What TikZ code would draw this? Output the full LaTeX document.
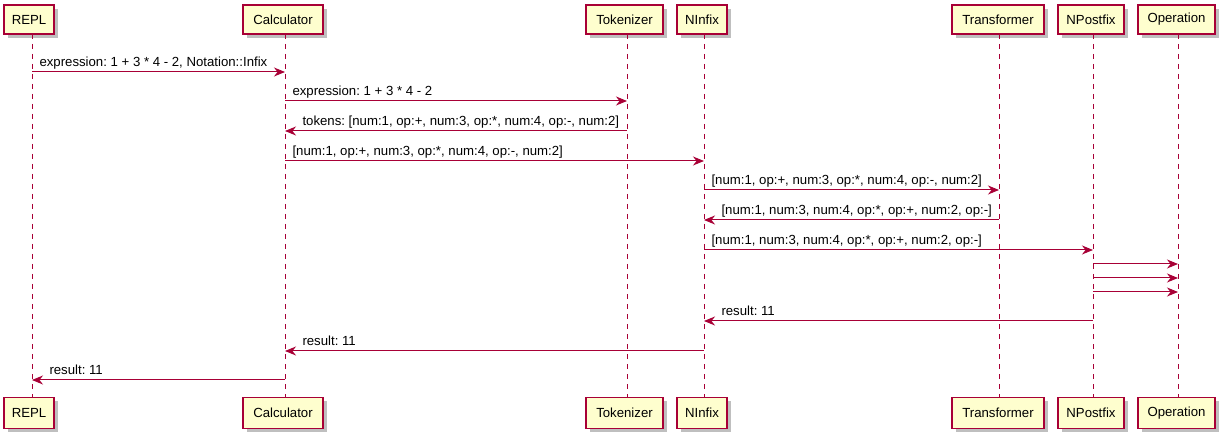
\documentclass[tikz,border=0pt]{standalone}
\usepackage{fontspec}
\setmainfont{Liberation Sans}
\frenchspacing
\usetikzlibrary{arrows.meta,shadows}
\definecolor{umlred}{HTML}{A80036}
\definecolor{umlfill}{HTML}{FEFECE}
\tikzset{
  part/.style={draw=umlred, fill=umlfill, line width=1.5bp, minimum height=29bp,
    inner sep=0pt, font=\fontsize{13.2bp}{15bp}\selectfont,
    drop shadow={shadow xshift=4bp, shadow yshift=-4bp, fill=black, opacity=.25}},
  life/.style={draw=umlred, dash pattern=on 5bp off 5bp, line width=1bp},
  msg/.style={draw=umlred, line width=1bp, -{Stealth[length=11bp,width=9bp,inset=3.5bp]}},
  lbl/.style={font=\fontsize{13.2bp}{15bp}\selectfont, inner sep=0pt}
}
\begin{document}
\begin{tikzpicture}[x=1bp,y=-1bp]
\useasboundingbox (0,0) rectangle (1228,441);
% participants, top and bottom
\node[part, minimum width=50bp] (repl) at (29,19.5) {REPL};
\node[part, minimum width=80bp] (calc) at (283,19.5) {Calculator};
\node[part, minimum width=77bp] (tok) at (624.5,19.5) {Tokenizer};
\node[part, minimum width=50bp] (ninf) at (702,19.5) {NInfix};
\node[part, minimum width=92bp] (trans) at (998,19.5) {Transformer};
\node[part, minimum width=66bp] (npost) at (1091,19.5) {NPostfix};
\node[part, minimum width=77bp] (oper) at (1176.5,19.5) {Operation};
\node[part, minimum width=50bp, minimum height=31bp] (replB) at (29,413) {REPL};
\node[part, minimum width=80bp, minimum height=31bp] (calcB) at (283,413) {Calculator};
\node[part, minimum width=77bp, minimum height=31bp] (tokB) at (624.5,413) {Tokenizer};
\node[part, minimum width=50bp, minimum height=31bp] (ninfB) at (702,413) {NInfix};
\node[part, minimum width=92bp, minimum height=31bp] (transB) at (998,413) {Transformer};
\node[part, minimum width=66bp, minimum height=31bp] (npostB) at (1091,413) {NPostfix};
\node[part, minimum width=77bp, minimum height=31bp] (operB) at (1176.5,413) {Operation};
% lifelines
\coordinate (replT) at (32,34);   \coordinate (replE) at (32,397);
\coordinate (calcT) at (285,34);  \coordinate (calcE) at (285,397);
\coordinate (tokT) at (627,34);   \coordinate (tokE) at (627,397);
\coordinate (ninfT) at (704,34);  \coordinate (ninfE) at (704,397);
\coordinate (transT) at (999,34); \coordinate (transE) at (999,397);
\coordinate (npostT) at (1093,34); \coordinate (npostE) at (1093,397);
\coordinate (operT) at (1178,34); \coordinate (operE) at (1178,397);
\draw[life] (replT) -- (replE);
\draw[life] (calcT) -- (calcE);
\draw[life] (tokT) -- (tokE);
\draw[life] (ninfT) -- (ninfE);
\draw[life] (transT) -- (transE);
\draw[life] (npostT) -- (npostE);
\draw[life] (operT) -- (operE);
% messages
\draw[msg] (replT |- 0,72) -- node[lbl, pos=0, anchor=base west, xshift=7bp, yshift=5bp] (m1) {expression: 1 + 3 * 4 - 2, Notation::Infix} (calcT |- 0,72);
\draw[msg] (calcT |- 0,101) -- node[lbl, pos=0, anchor=base west, xshift=7bp, yshift=5bp] (m2) {expression: 1 + 3 * 4 - 2} (tokT |- 0,101);
\draw[msg] (tokT |- 0,131) -- node[lbl, pos=1, anchor=base west, xshift=17bp, yshift=5bp] (m3) {tokens: [num:1, op:+, num:3, op:*, num:4, op:-, num:2]} (calcT |- 0,131);
\draw[msg] (calcT |- 0,161) -- node[lbl, pos=0, anchor=base west, xshift=7bp, yshift=5bp] (m4) {[num:1, op:+, num:3, op:*, num:4, op:-, num:2]} (ninfT |- 0,161);
\draw[msg] (ninfT |- 0,190) -- node[lbl, pos=0, anchor=base west, xshift=7bp, yshift=5bp] (m5) {[num:1, op:+, num:3, op:*, num:4, op:-, num:2]} (transT |- 0,190);
\draw[msg] (transT |- 0,220) -- node[lbl, pos=1, anchor=base west, xshift=17bp, yshift=5bp] (m6) {[num:1, num:3, num:4, op:*, op:+, num:2, op:-]} (ninfT |- 0,220);
\draw[msg] (ninfT |- 0,250) -- node[lbl, pos=0, anchor=base west, xshift=7bp, yshift=5bp] (m7) {[num:1, num:3, num:4, op:*, op:+, num:2, op:-]} (npostT |- 0,250);
\draw[msg] (npostT |- 0,264) -- (operT |- 0,264);
\draw[msg] (npostT |- 0,278) -- (operT |- 0,278);
\draw[msg] (npostT |- 0,292) -- (operT |- 0,292);
\draw[msg] (npostT |- 0,321) -- node[lbl, pos=1, anchor=base west, xshift=17bp, yshift=5bp] (m11) {result: 11} (ninfT |- 0,321);
\draw[msg] (ninfT |- 0,351) -- node[lbl, pos=1, anchor=base west, xshift=17bp, yshift=5bp] (m12) {result: 11} (calcT |- 0,351);
\draw[msg] (calcT |- 0,380) -- node[lbl, pos=1, anchor=base west, xshift=17bp, yshift=5bp] (m13) {result: 11} (replT |- 0,380);
\end{tikzpicture}
\end{document}
